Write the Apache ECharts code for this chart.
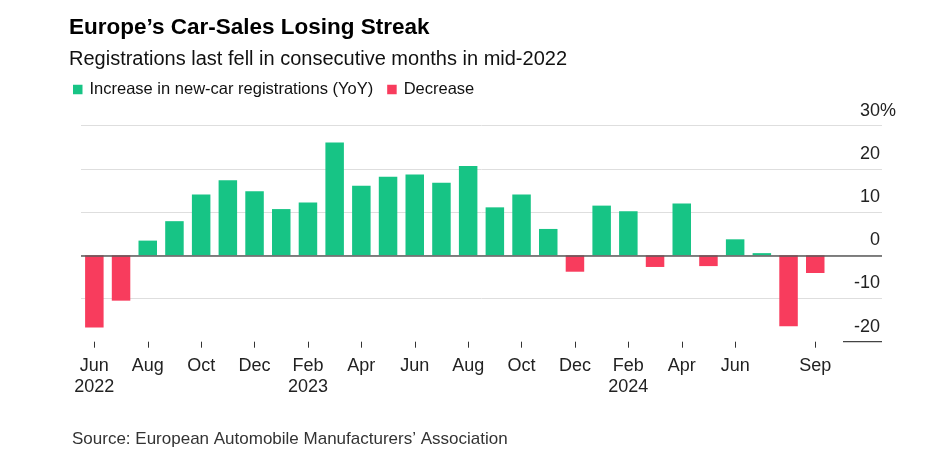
<!DOCTYPE html>
<html>
<head>
<meta charset="utf-8">
<script src="https://cdn.jsdelivr.net/npm/echarts@6/dist/echarts.min.js"></script>
<style>
  html, body { margin: 0; padding: 0; background: #fff; }
  #chart { width: 930px; height: 465px; }
</style>
</head>
<body>
<div id="chart"></div>
<script>
// Months from Jun 2022 to Nov 2024 (last two have no data yet)
const categories = [
  'Jun 2022','Jul 2022','Aug 2022','Sep 2022','Oct 2022','Nov 2022','Dec 2022',
  'Jan 2023','Feb 2023','Mar 2023','Apr 2023','May 2023','Jun 2023','Jul 2023',
  'Aug 2023','Sep 2023','Oct 2023','Nov 2023','Dec 2023',
  'Jan 2024','Feb 2024','Mar 2024','Apr 2024','May 2024','Jun 2024','Jul 2024',
  'Aug 2024','Sep 2024','Oct 2024','Nov 2024'
];
// YoY change in new-car registrations, %
const yoyValues = [
  -16.7, -10.5, 3.4, 7.9, 14.1, 17.4, 14.8,
  10.7, 12.2, 26.1, 16.1, 18.2, 18.7, 16.8,
  20.7, 11.1, 14.1, 6.1, -3.8,
  11.5, 10.2, -2.7, 12.0, -2.5, 3.7, 0.5,
  -16.4, -4.1, null, null
];
const xTickLabels = [
  'Jun\n2022','', 'Aug','', 'Oct','', 'Dec','',
  'Feb\n2023','', 'Apr','', 'Jun','', 'Aug','', 'Oct','', 'Dec','',
  'Feb\n2024','', 'Apr','', 'Jun','', '', 'Sep','', ''
];
const yTicks = [-20, -10, 0, 10, 20, 30];

const GREEN = '#17c485';
const RED = '#f83c5d';
const FONT = 'Liberation Sans, Arial, sans-serif';

const increase = yoyValues.map(v => (v !== null && v >= 0) ? v : null);
const decrease = yoyValues.map(v => (v !== null && v < 0) ? v : null);

const chart = echarts.init(document.getElementById('chart'), null, { renderer: 'canvas' });

const option = {
  backgroundColor: '#ffffff',
  animation: false,
  textStyle: { fontFamily: FONT },
  title: [
    {
      text: 'Europe’s Car-Sales Losing Streak',
      left: 64, top: 11,
      textStyle: { fontFamily: FONT, fontSize: 22.5, fontWeight: 'bold', color: '#000' }
    },
    {
      text: 'Registrations last fell in consecutive months in mid-2022',
      left: 64, top: 44,
      textStyle: { fontFamily: FONT, fontSize: 20, fontWeight: 'normal', color: '#111' }
    },
    {
      text: 'Source: European Automobile Manufacturers’ Association',
      left: 67, top: 426,
      textStyle: { fontFamily: FONT, fontSize: 17, fontWeight: 'normal', color: '#333' }
    }
  ],
  legend: {
    left: 68, top: 76,
    icon: 'rect',
    itemWidth: 9.5, itemHeight: 9.5,
    itemGap: 14,
    textStyle: { fontFamily: FONT, fontSize: 16.5, color: '#111', padding: [0, 0, 0, 2] },
    data: ['Increase in new-car registrations (YoY)', 'Decrease']
  },
  grid: { left: 81, right: 48, top: 125.7, bottom: 123.3, containLabel: false },
  xAxis: {
    type: 'category',
    data: categories,
    boundaryGap: true,
    axisLine: { show: false, onZero: false },
    axisTick: {
      show: true, alignWithLabel: true, length: 6,
      interval: (i) => xTickLabels[i] !== '',
      lineStyle: { color: '#333', width: 1 }
    },
    axisLabel: {
      interval: (i) => xTickLabels[i] !== '',
      formatter: (val, i) => xTickLabels[i],
      margin: 14,
      fontFamily: FONT, fontSize: 18, color: '#222', lineHeight: 21
    },
    splitLine: { show: false }
  },
  yAxis: {
    type: 'value',
    position: 'right',
    min: -20, max: 30, interval: 10,
    axisLine: { show: false },
    axisTick: { show: false },
    axisLabel: {
      inside: true,
      margin: 2,
      align: 'right',
      verticalAlign: 'bottom',
      padding: [0, 0, 6, 0],
      fontFamily: FONT, fontSize: 18, color: '#222',
      formatter: (v) => String(v)
    },
    splitLine: { show: true, showMinLine: false, lineStyle: { color: '#dedede', width: 1 } }
  },
  series: [
    {
      name: 'Increase in new-car registrations (YoY)',
      type: 'bar',
      stack: 'yoy',
      data: increase,
      barWidth: 18.5,
      itemStyle: { color: GREEN },
      markLine: {
        silent: true,
        symbol: ['none', 'none'],
        label: { show: false },
        lineStyle: { color: '#5a5a5a', width: 1.5, type: 'solid' },
        data: [{ yAxis: 0 }]
      }
    },
    {
      name: 'Decrease',
      type: 'bar',
      stack: 'yoy',
      data: decrease,
      barWidth: 18.5,
      itemStyle: { color: RED }
    }
  ]
};

chart.setOption(option);

// Decorations placed from the axis scale: "%" after the top label, short baseline at the min
const y30 = chart.convertToPixel({ yAxisIndex: 0 }, 30);
const yMin = chart.convertToPixel({ yAxisIndex: 0 }, -20);
const gridRight = 930 - 48;
chart.setOption({
  graphic: [
    {
      type: 'text',
      x: gridRight - 2, y: y30 - 6,
      style: {
        text: '%', fontFamily: FONT, fontSize: 18, fill: '#222',
        align: 'left', verticalAlign: 'bottom'
      }
    },
    {
      type: 'line',
      shape: { x1: gridRight - 39, y1: yMin, x2: gridRight, y2: yMin },
      style: { stroke: '#444', lineWidth: 1.2 }
    }
  ]
});
</script>
</body>
</html>
